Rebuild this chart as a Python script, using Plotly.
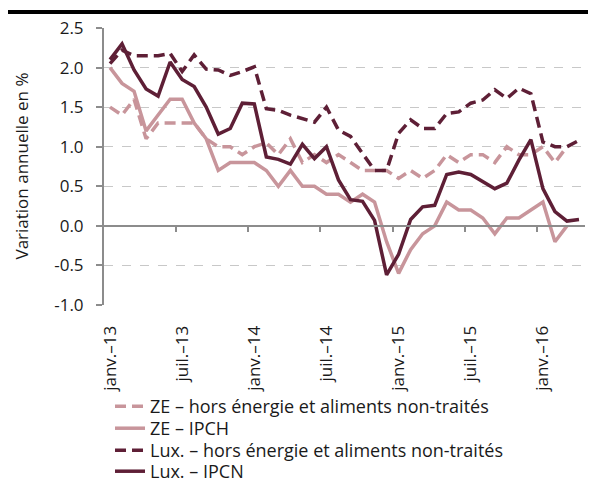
import plotly.graph_objects as go

months = [f"{y}-{m:02d}" for y in (2013, 2014, 2015, 2016) for m in range(1, 13)][:40]

ze_core = [1.5, 1.4, 1.6, 1.1, 1.3, 1.3, 1.3, 1.3, 1.1, 1.0,
           1.0, 0.9, 1.0, 1.05, 0.9, 1.1, 0.8, 0.9, 0.8, 0.9,
           0.8, 0.7, 0.7, 0.7, 0.6, 0.7, 0.6, 0.7, 0.9, 0.8,
           0.9, 0.9, 0.8, 1.0, 0.9, 0.9, 1.0, 0.8, 1.0]
ze_hicp = [2.0, 1.8, 1.7, 1.2, 1.4, 1.6, 1.6, 1.3, 1.1, 0.7,
           0.8, 0.8, 0.8, 0.7, 0.5, 0.7, 0.5, 0.5, 0.4, 0.4,
           0.3, 0.4, 0.3, -0.2, -0.6, -0.3, -0.1, 0.0, 0.3, 0.2,
           0.2, 0.1, -0.1, 0.1, 0.1, 0.2, 0.3, -0.2, 0.0]
lux_core = [2.05, 2.22, 2.15, 2.15, 2.15, 2.18, 1.95, 2.16, 1.98, 1.97,
            1.9, 1.95, 2.01, 1.48, 1.46, 1.4, 1.36, 1.31, 1.5, 1.21,
            1.13, 0.91, 0.7, 0.7, 1.17, 1.34, 1.23, 1.23, 1.42, 1.44,
            1.55, 1.59, 1.72, 1.61, 1.74, 1.67, 1.06, 1.0, 1.0, 1.08]
lux_ipcn = [2.1, 2.3, 1.97, 1.73, 1.64, 2.07, 1.85, 1.76, 1.5, 1.16,
            1.23, 1.55, 1.54, 0.87, 0.84, 0.78, 1.03, 0.85, 1.0, 0.58,
            0.33, 0.31, 0.07, -0.62, -0.36, 0.08, 0.24, 0.26, 0.65, 0.68,
            0.65, 0.56, 0.47, 0.54, 0.83, 1.09, 0.47, 0.18, 0.06, 0.08]

tick_labels = ["janv.–13", "juil.–13", "janv.–14", "juil.–14", "janv.–15", "juil.–15", "janv.–16"]
y_tick_labels = ["-1.0", "-0.5", "0.0", "0.5", "1.0", "1.5", "2.0", "2.5"]
y_tick_values = [-1, -0.5, 0, 0.5, 1, 1.5, 2, 2.5]
series_names = ["ZE – hors énergie et aliments non-traités", "ZE – IPCH",
                "Lux. – hors énergie et aliments non-traités", "Lux. – IPCN"]

DARK = "#5e1f36"
LIGHT = "#c8959b"
FONT = "Open Sans"
FS = 17
FS_LEG = 18
TXT = "#1a1a1a"
DASH = "11px,6px"

x_all = list(range(len(months)))

# page body has an 8px default margin, so the figure is 8px smaller than the window
W, H = 588, 471
ml, mr, mt, mb = 96, 11, 20, 174
pw, ph = W - ml - mr, H - mt - mb

legend_ids = ["legend", "legend2", "legend3", "legend4"]
fig = go.Figure()
for lid, name, vals, color, dash in zip(
    legend_ids, series_names,
    [ze_core, ze_hicp, lux_core, lux_ipcn],
    [LIGHT, LIGHT, DARK, DARK],
    [DASH, "solid", DASH, "solid"],
):
    fig.add_trace(go.Scatter(x=x_all[:len(vals)], y=vals, mode="lines", name=name,
                             legend=lid, line=dict(color=color, width=3.5, dash=dash)))

# invisible trace to carry the zero-line axis with tick marks
fig.add_trace(go.Scatter(x=[0], y=[0], xaxis="x2", mode="markers", marker=dict(opacity=0),
                         showlegend=False, hoverinfo="skip"))

yr = [-1.0, 2.5]
xr = [-0.5, len(months) - 0.5]

legend_style = dict(xref="container", yref="container", x=102 / W,
                    xanchor="left", yanchor="top",
                    font=dict(family=FONT, size=FS_LEG, color=TXT),
                    itemwidth=30, bgcolor="rgba(0,0,0,0)")
legend_tops = [380, 402, 424, 445]

fig.update_layout(
    width=W, height=H,
    margin=dict(l=ml, r=mr, t=mt, b=mb, autoexpand=False),
    paper_bgcolor="white", plot_bgcolor="white",
    font=dict(family=FONT, size=FS, color=TXT),
    showlegend=True,
    xaxis=dict(range=xr, tickmode="array", tickvals=[0, 6, 12, 18, 24, 30, 36],
               ticktext=tick_labels, tickangle=-90, showgrid=False, zeroline=False,
               showline=False, ticks="outside", ticklen=13, tickcolor="rgba(0,0,0,0)",
               tickfont=dict(size=FS)),
    xaxis2=dict(overlaying="x", anchor="free", position=(0 - yr[0]) / (yr[1] - yr[0]),
                side="bottom", range=xr, tickmode="array",
                tickvals=[5.5, 11.5, 17.5, 23.5, 29.5, 35.5], showticklabels=False,
                ticks="outside", ticklen=5, tickwidth=1.5, tickcolor="#8c8c8c",
                showline=True, linecolor="#8c8c8c", linewidth=2, showgrid=False,
                zeroline=False),
    yaxis=dict(range=yr, tickmode="array", tickvals=y_tick_values,
               ticktext=y_tick_labels,
               showgrid=True, gridcolor="#c8c8c8", griddash="dash", gridwidth=1,
               zeroline=False, showline=True, linecolor="#8c8c8c", linewidth=2,
               ticks="outside", ticklen=6, tickwidth=1.5, tickcolor="#8c8c8c",
               ticklabelstandoff=9, tickfont=dict(size=FS)),
)
for lid, top in zip(legend_ids, legend_tops):
    fig.update_layout({lid: dict(legend_style, y=1 - top / H)})

fig.add_annotation(text="Variation annuelle en %", xref="paper", yref="paper",
                   x=(13 - ml) / pw, y=0.5, xanchor="center", yanchor="middle",
                   textangle=-90, showarrow=False, font=dict(size=FS, color=TXT))

fig.add_shape(type="line", xref="paper", yref="paper",
              x0=-ml / pw, x1=1 + mr / pw, y0=1 + 16 / ph, y1=1 + 16 / ph,
              line=dict(color="black", width=4))

fig.write_html("out.html")
